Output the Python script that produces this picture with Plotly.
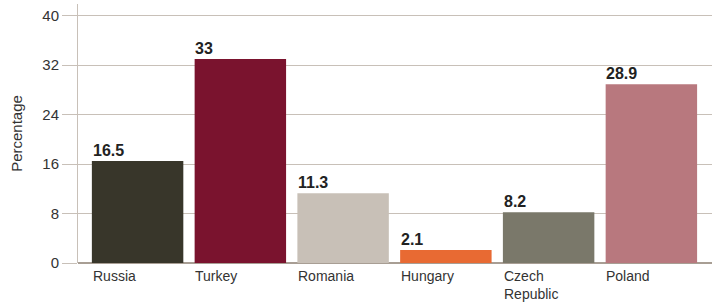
import plotly.graph_objects as go

categories = ["Russia", "Turkey", "Romania", "Hungary", "Czech Republic", "Poland"]
tick_labels = ["Russia", "Turkey", "Romania", "Hungary", "Czech<br>Republic", "Poland"]
values = [16.5, 33, 11.3, 2.1, 8.2, 28.9]
value_labels = ["16.5", "33", "11.3", "2.1", "8.2", "28.9"]
colors = ["#38362a", "#7a132e", "#c8c0b7", "#e86a33", "#7a786a", "#b8787e"]
y_ticks = [0, 8, 16, 24, 32, 40]

FONT = "Liberation Sans, Arial, sans-serif"

fig = go.Figure()
fig.add_trace(go.Bar(
    x=categories, y=values, marker=dict(color=colors, line=dict(width=0)),
    width=0.89, hoverinfo="skip",
))

annotations = []
for c, v, lab, tl in zip(categories, values, value_labels, tick_labels):
    annotations.append(dict(
        x=c, y=v, xref="x", yref="y", text="<b>%s</b>" % lab, showarrow=False,
        xanchor="left", yanchor="bottom", xshift=-47, yshift=0,
        font=dict(family=FONT, size=16, color="#222222"),
    ))
    annotations.append(dict(
        x=c, y=0, xref="x", yref="y", text=tl, showarrow=False,
        xanchor="left", yanchor="top", align="left", xshift=-47, yshift=-3,
        font=dict(family=FONT, size=14, color="#333333"),
    ))

fig.update_layout(
    width=712, height=302,
    margin=dict(l=78, r=0, t=4, b=39),
    plot_bgcolor="white", paper_bgcolor="white",
    showlegend=False,
    annotations=annotations,
    font=dict(family=FONT, size=14, color="#333333"),
    xaxis=dict(
        range=[-0.58, 5.59], showticklabels=False, showgrid=False,
        zeroline=False, showline=False, ticks="", fixedrange=True,
    ),
    yaxis=dict(
        range=[0, 41.9], tickvals=y_ticks, ticks="outside", ticklen=15,
        tickcolor="#c8c0b8", tickwidth=1,
        showgrid=True, gridcolor="#c8c0b8", gridwidth=1,
        zeroline=True, zerolinecolor="#a89e94", zerolinewidth=1.5,
        showline=True, linecolor="#c8c0b8", linewidth=1,
        tickfont=dict(family=FONT, size=15, color="#333333"),
        title=dict(text="Percentage", standoff=16,
                   font=dict(family=FONT, size=15, color="#333333")),
    ),
    bargap=0.11,
)

fig.write_html(
    "out.html",
    config={"displayModeBar": False, "staticPlot": True},
    post_script="document.body.style.margin='0px';document.body.style.padding='0px';",
)
